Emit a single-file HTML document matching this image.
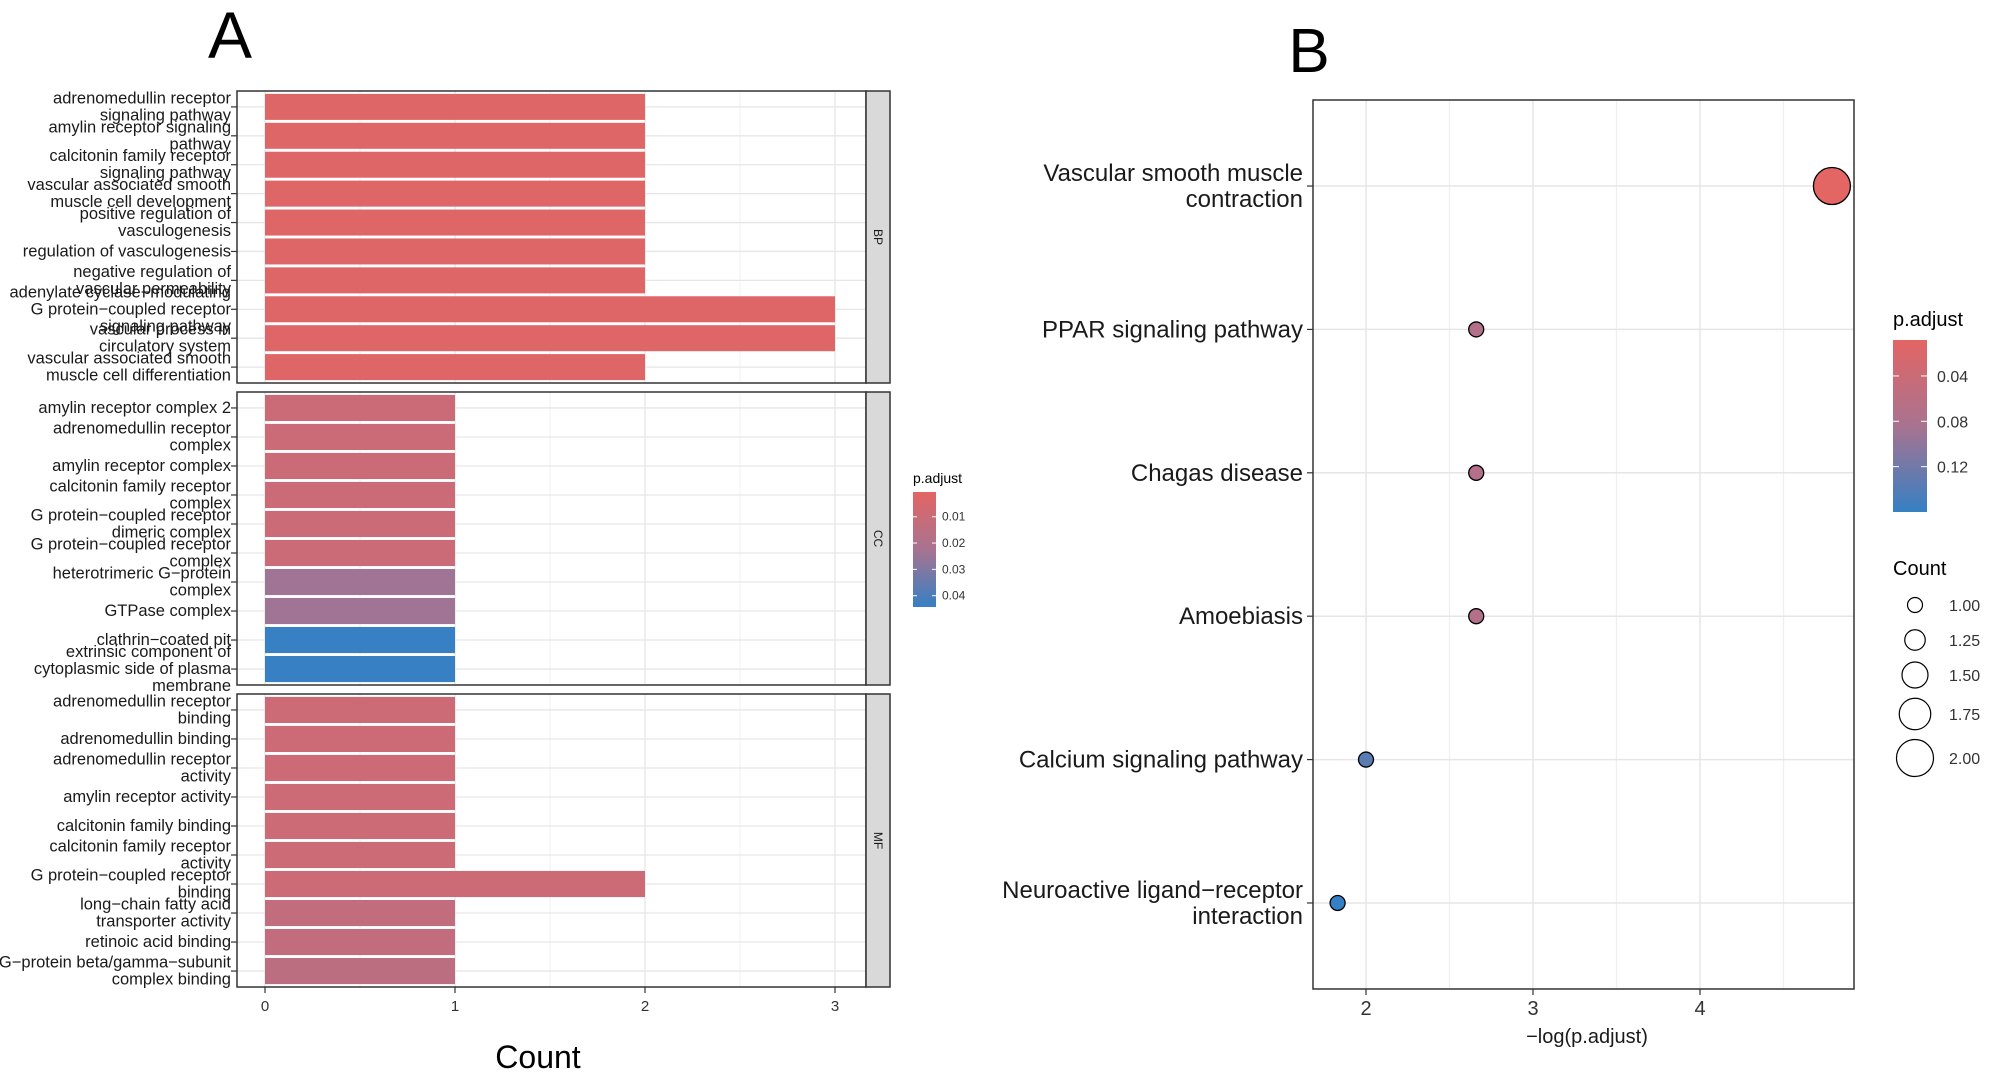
<!DOCTYPE html>
<html><head><meta charset="utf-8"><style>
html,body{margin:0;padding:0;background:#fff;}
svg{display:block;font-family:"Liberation Sans",Arial,sans-serif;}
</style></head><body>
<svg id="fig" width="2000" height="1077" viewBox="0 0 2000 1077" xmlns="http://www.w3.org/2000/svg">
<defs>
<linearGradient id="gradA" x1="0" y1="0" x2="0" y2="1"><stop offset="0" stop-color="#E36564"/><stop offset="0.5" stop-color="#A87390"/><stop offset="1" stop-color="#3580C4"/></linearGradient>
<linearGradient id="gradB" x1="0" y1="0" x2="0" y2="1"><stop offset="0" stop-color="#E36564"/><stop offset="0.5" stop-color="#A87390"/><stop offset="1" stop-color="#3580C4"/></linearGradient>
</defs>
<g id="panelA"></g>
<g id="panelB"></g>
</svg>
<script>
// ---------- Panel A data ----------
const facetNames = ["BP","CC","MF"];
const bpLabels = [["adrenomedullin receptor","signaling pathway"],["amylin receptor signaling","pathway"],["calcitonin family receptor","signaling pathway"],["vascular associated smooth","muscle cell development"],["positive regulation of","vasculogenesis"],["regulation of vasculogenesis"],["negative regulation of","vascular permeability"],["adenylate cyclase\u2212modulating","G protein\u2212coupled receptor","signaling pathway"],["vascular process in","circulatory system"],["vascular associated smooth","muscle cell differentiation"]];
const bpCounts = [2,2,2,2,2,2,2,3,3,2];
const bpPadj = [0.002,0.002,0.002,0.002,0.002,0.002,0.002,0.002,0.002,0.002];
const ccLabels = [["amylin receptor complex 2"],["adrenomedullin receptor","complex"],["amylin receptor complex"],["calcitonin family receptor","complex"],["G protein\u2212coupled receptor","dimeric complex"],["G protein\u2212coupled receptor","complex"],["heterotrimeric G\u2212protein","complex"],["GTPase complex"],["clathrin\u2212coated pit"],["extrinsic component of","cytoplasmic side of plasma","membrane"]];
const ccCounts = [1,1,1,1,1,1,1,1,1,1];
const ccPadj = [0.010,0.010,0.010,0.010,0.010,0.010,0.024,0.024,0.044,0.044];
const mfLabels = [["adrenomedullin receptor","binding"],["adrenomedullin binding"],["adrenomedullin receptor","activity"],["amylin receptor activity"],["calcitonin family binding"],["calcitonin family receptor","activity"],["G protein\u2212coupled receptor","binding"],["long\u2212chain fatty acid","transporter activity"],["retinoic acid binding"],["G\u2212protein beta/gamma\u2212subunit","complex binding"]];
const mfCounts = [1,1,1,1,1,1,2,1,1,1];
const mfPadj = [0.009,0.009,0.009,0.009,0.009,0.009,0.009,0.013,0.013,0.015];
const xTicksA = [0,1,2,3];
const legendATicks = [0.01,0.02,0.03,0.04];
// ---------- Panel B data ----------
const keggLabels = [["Vascular smooth muscle","contraction"],["PPAR signaling pathway"],["Chagas disease"],["Amoebiasis"],["Calcium signaling pathway"],["Neuroactive ligand\u2212receptor","interaction"]];
const keggNegLog = [4.79,2.66,2.66,2.66,2.00,1.83];
const keggCount = [2,1,1,1,1,1];
const keggPadj = [0.0083,0.070,0.070,0.070,0.135,0.160];
const xTicksB = [2,3,4];
const legendBTicks = [0.04,0.08,0.12];
const countLegend = [1.00,1.25,1.50,1.75,2.00];

const NS="http://www.w3.org/2000/svg";
function mk(tag,attrs,parent,text){const e=document.createElementNS(NS,tag);for(const k in attrs)e.setAttribute(k,attrs[k]);if(text!==undefined)e.textContent=text;parent.appendChild(e);return e;}
function hex(c){return [parseInt(c.slice(1,3),16),parseInt(c.slice(3,5),16),parseInt(c.slice(5,7),16)];}
const stops=[hex("#E36564"),hex("#A87390"),hex("#3580C4")];
function ramp(t){t=Math.max(0,Math.min(1,t));let a,b,u;if(t<0.5){a=stops[0];b=stops[1];u=t/0.5;}else{a=stops[1];b=stops[2];u=(t-0.5)/0.5;}return "rgb("+a.map((v,i)=>Math.round(v+(b[i]-v)*u)).join(",")+")";}

// ---------- Panel A ----------
const A=document.getElementById('panelA');
const pL=237,pR=866,stripR=890;
const xA=v=>265+v*190;
const facetTops=[91,392,694],facetBots=[383,685,987];
const pAmin=0.0006,pAmax=0.0443;
const colA=p=>ramp((p-pAmin)/(pAmax-pAmin));
const facetData=[[bpLabels,bpCounts,bpPadj],[ccLabels,ccCounts,ccPadj],[mfLabels,mfCounts,mfPadj]];
const t1=mk('text',{x:230,y:58,'font-size':66,'text-anchor':'middle',fill:'#000'},A,'A');


facetData.forEach((fd,fi)=>{
  const [labs,cnts,pads]=fd;const top=facetTops[fi],bot=facetBots[fi],h=bot-top;const n=labs.length;
  const pitch=h/(n+0.1);
  const g=mk('g',{},A);
  
  
  mk('rect',{x:pL,y:top,width:pR-pL,height:h,fill:'#fff'},g);
  [0.5,1.5,2.5].forEach(v=>mk('line',{x1:xA(v),x2:xA(v),y1:top,y2:bot,stroke:'#F2F2F2','stroke-width':1},g));
  xTicksA.forEach(v=>mk('line',{x1:xA(v),x2:xA(v),y1:top,y2:bot,stroke:'#E6E6E6','stroke-width':1.3},g));
  for(let i=0;i<n;i++){
    const cy=top+pitch*(i+0.55);
    mk('line',{x1:pL,x2:pR,y1:cy,y2:cy,stroke:'#E6E6E6','stroke-width':1.3},g);
  }
  for(let i=0;i<n;i++){
    const cy=top+pitch*(i+0.55);const bh=pitch*0.9;
    const r=mk('rect',{x:xA(0),y:cy-bh/2,width:xA(cnts[i])-xA(0),height:bh,fill:colA(pads[i])},g);
    
    
    mk('line',{x1:pL-6,x2:pL,y1:cy,y2:cy,stroke:'#333','stroke-width':1.2},g);
    const lines=labs[i];const lh=17;
    const tx=mk('text',{'font-size':16.5,'text-anchor':'end',fill:'#1a1a1a'},g);
    
    
    lines.forEach((ln,j)=>{mk('tspan',{x:231,y:cy+5+(j-(lines.length-1)/2)*lh},tx,ln);});
  }
  mk('rect',{x:pL,y:top,width:pR-pL,height:h,fill:'none',stroke:'#333','stroke-width':1.5},g);
  const st=mk('rect',{x:pR,y:top,width:stripR-pR,height:h,fill:'#D9D9D9',stroke:'#333','stroke-width':1.5},g);
  
  
  const cx=(pR+stripR)/2,cyy=(top+bot)/2;
  mk('text',{x:cx,y:cyy,'font-size':12,'text-anchor':'middle',transform:'rotate(90 '+cx+' '+cyy+')',dy:4,fill:'#1a1a1a'},g,facetNames[fi]);
});
xTicksA.forEach(v=>{
  mk('line',{x1:xA(v),x2:xA(v),y1:987,y2:993,stroke:'#333','stroke-width':1.2},A);
  const t=mk('text',{x:xA(v),y:1011,'font-size':15,'text-anchor':'middle',fill:'#333'},A,String(v));
  
  
});
const ctA=mk('text',{x:538,y:1068,'font-size':32,'text-anchor':'middle',fill:'#000'},A,'Count');


// legend A
const lgA=mk('g',{},A);


mk('text',{x:913,y:483,'font-size':14,fill:'#000'},lgA,'p.adjust');
const lAtop=492,lAbot=607;
mk('rect',{x:913,y:lAtop,width:23,height:lAbot-lAtop,fill:'url(#gradA)'},lgA);
const yLA=p=>lAtop+(p-pAmin)/(pAmax-pAmin)*(lAbot-lAtop);
legendATicks.forEach(p=>{
  mk('line',{x1:913,x2:917,y1:yLA(p),y2:yLA(p),stroke:'#fff'},lgA);
  mk('line',{x1:932,x2:936,y1:yLA(p),y2:yLA(p),stroke:'#fff'},lgA);
  mk('text',{x:942,y:yLA(p)+4,'font-size':12,fill:'#333'},lgA,p.toFixed(2));
});

// ---------- Panel B ----------
const B=document.getElementById('panelB');
const bL=1313,bR=1854,bT=100,bB=989;
const xB=v=>1366+(v-2)*167;
const yB=i=>bT+(i+0.6)*((bB-bT)/(keggLabels.length+0.2));
const pBmin=0.0083,pBmax=0.16;
const colB=p=>ramp((p-pBmin)/(pBmax-pBmin));
const rB=c=>7.5+(c-1)*11;
const tB=mk('text',{x:1309,y:72,'font-size':62,'text-anchor':'middle',fill:'#000'},B,'B');


mk('rect',{x:bL,y:bT,width:bR-bL,height:bB-bT,fill:'#fff'},B);
[2.5,3.5,4.5].forEach(v=>mk('line',{x1:xB(v),x2:xB(v),y1:bT,y2:bB,stroke:'#F0F0F0','stroke-width':1.3},B));
xTicksB.forEach(v=>mk('line',{x1:xB(v),x2:xB(v),y1:bT,y2:bB,stroke:'#E6E6E6','stroke-width':1.5},B));
keggLabels.forEach((labs,i)=>{
  const cy=yB(i);
  mk('line',{x1:bL,x2:bR,y1:cy,y2:cy,stroke:'#E6E6E6','stroke-width':1.5},B);
  mk('line',{x1:bL-6,x2:bL,y1:cy,y2:cy,stroke:'#333','stroke-width':1.2},B);
  const tx=mk('text',{'font-size':24,'text-anchor':'end',fill:'#1a1a1a'},B);
  
  
  labs.forEach((ln,j)=>mk('tspan',{x:1303,y:cy+8+(j-(labs.length-1)/2)*26},tx,ln));
});
keggLabels.forEach((labs,i)=>{
  const c=mk('circle',{cx:xB(keggNegLog[i]),cy:yB(i),r:rB(keggCount[i]),fill:colB(keggPadj[i]),stroke:'#000','stroke-width':1.3},B);
  
  
});
mk('rect',{x:bL,y:bT,width:bR-bL,height:bB-bT,fill:'none',stroke:'#333','stroke-width':1.5},B);
xTicksB.forEach(v=>{
  mk('line',{x1:xB(v),x2:xB(v),y1:bB,y2:bB+6,stroke:'#333','stroke-width':1.2},B);
  const t=mk('text',{x:xB(v),y:1015,'font-size':20,'text-anchor':'middle',fill:'#333'},B,String(v));
  
  
});
const axB=mk('text',{x:1587,y:1043,'font-size':20,'text-anchor':'middle',fill:'#1a1a1a'},B,'\u2212log(p.adjust)');


// legend B colour
const lgB=mk('g',{},B);


mk('text',{x:1893,y:326,'font-size':20,fill:'#000'},lgB,'p.adjust');
const lBtop=340,lBbot=512;
mk('rect',{x:1893,y:lBtop,width:34,height:lBbot-lBtop,fill:'url(#gradB)'},lgB);
const yLB=p=>lBtop+(p-pBmin)/(pBmax-pBmin)*(lBbot-lBtop);
legendBTicks.forEach(p=>{
  mk('line',{x1:1893,x2:1899,y1:yLB(p),y2:yLB(p),stroke:'#fff'},lgB);
  mk('line',{x1:1921,x2:1927,y1:yLB(p),y2:yLB(p),stroke:'#fff'},lgB);
  mk('text',{x:1937,y:yLB(p)+6,'font-size':16,fill:'#333'},lgB,p.toFixed(2));
});
// legend B size
const lgS=mk('g',{},B);


mk('text',{x:1893,y:575,'font-size':20,fill:'#000'},lgS,'Count');
const legYs=[605,640,675,714,758];
countLegend.forEach((c,i)=>{
  mk('circle',{cx:1915,cy:legYs[i],r:rB(c),fill:'none',stroke:'#000','stroke-width':1.2},lgS);
  mk('text',{x:1949,y:legYs[i]+6,'font-size':16,fill:'#333'},lgS,c.toFixed(2));
});
</script>
</body></html>
